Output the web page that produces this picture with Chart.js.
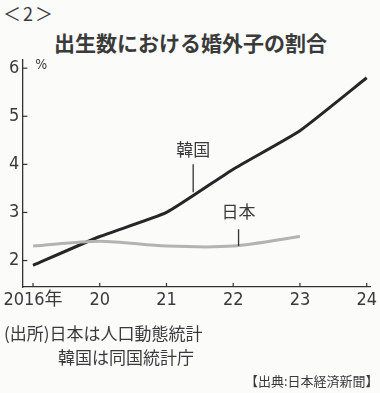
<!DOCTYPE html>
<html>
<head>
<meta charset="utf-8">
<script src="https://cdn.jsdelivr.net/npm/chart.js@4"></script>
<style>
    body { margin: 0; background: #fbfbfa; width: 380px; height: 393px; overflow: hidden; position: relative; font-family: 'Noto Sans CJK JP', sans-serif; color: #3a3a3a; }
    #chart { position: absolute; left: 0; top: 0; }
    .txt { position: absolute; white-space: nowrap; line-height: 1; }
</style>
</head>
<body>
<div class="txt" style="left:3px; top:4px; font-size:18px; letter-spacing:-1px;">＜ 2 ＞</div>
<div class="txt" style="left:54px; top:32px; font-size:21px; font-weight:bold;">出生数における婚外子の割合</div>
<canvas id="chart" width="380" height="393"></canvas>
<div class="txt" style="left:4px; top:324px; font-size:17px;">(出所)日本は人口動態統計</div>
<div class="txt" style="left:58px; top:348px; font-size:17px;">韓国は同国統計庁</div>
<div class="txt" style="left:245px; top:374px; font-size:13px;">【出典:日本経済新聞】</div>

<script>
const years = ['2016年', '20', '21', '22', '23', '24'];
const korea = [1.9, 2.5, 3.0, 3.9, 4.7, 5.8];
const japan = [2.3, 2.4, 2.3, 2.3, 2.5];
const yTicks = [2, 3, 4, 5, 6];

const numFont = "'Liberation Sans Narrow', 'DejaVu Sans Condensed', 'Noto Sans CJK JP', sans-serif";

// inward tick marks and the labels with leader lines
const decorPlugin = {
    id: 'decor',
    afterDraw(chart) {
        const ctx = chart.ctx;
        const x = chart.scales.x;
        const y = chart.scales.y;
        ctx.save();
        ctx.strokeStyle = '#333';
        ctx.lineWidth = 1.2;
        yTicks.forEach(v => {
            const py = y.getPixelForValue(v);
            ctx.beginPath();
            ctx.moveTo(x.left, py);
            ctx.lineTo(x.left + 5, py);
            ctx.stroke();
        });
        years.forEach((_, i) => {
            const px = x.getPixelForValue(i);
            ctx.beginPath();
            ctx.moveTo(px, y.bottom);
            ctx.lineTo(px, y.bottom - 4);
            ctx.stroke();
        });

        ctx.fillStyle = '#3a3a3a';
        ctx.font = "14px " + numFont;
        ctx.textAlign = 'left';
        ctx.textBaseline = 'middle';
        ctx.fillText('%', x.left + 13, y.getPixelForValue(6.05));

        ctx.font = "17px 'Noto Sans CJK JP', sans-serif";
        ctx.textAlign = 'center';
        ctx.fillText('韓国', x.getPixelForValue(2.4), y.getPixelForValue(4.3));
        ctx.fillText('日本', x.getPixelForValue(3.08), y.getPixelForValue(3.02));

        ctx.lineWidth = 1.3;
        ctx.beginPath();
        ctx.moveTo(x.getPixelForValue(2.4), y.getPixelForValue(4.0));
        ctx.lineTo(x.getPixelForValue(2.4), y.getPixelForValue(3.42));
        ctx.moveTo(x.getPixelForValue(3.08), y.getPixelForValue(2.65));
        ctx.lineTo(x.getPixelForValue(3.08), y.getPixelForValue(2.3));
        ctx.stroke();
        ctx.restore();
    }
};

const ctx = document.getElementById('chart').getContext('2d');
new Chart(ctx, {
    type: 'line',
    data: {
        datasets: [{
            label: '日本',
            data: japan.map((v, i) => ({ x: i, y: v })),
            borderColor: '#b3b3b1',
            borderWidth: 3,
            pointRadius: 0,
            tension: 0.3
        }, {
            label: '韓国',
            data: korea.map((v, i) => ({ x: i, y: v })),
            borderColor: '#262626',
            borderWidth: 3,
            pointRadius: 0,
            tension: 0.15
        }]
    },
    options: {
        responsive: false,
        devicePixelRatio: 1,
        animation: false,
        layout: { padding: { top: 60, right: 8, bottom: 76, left: 0 } },
        plugins: {
            legend: { display: false },
            tooltip: { enabled: false }
        },
        scales: {
            x: {
                type: 'linear',
                min: -0.16,
                max: 5.06,
                afterBuildTicks: scale => { scale.ticks = years.map((_, i) => ({ value: i })); },
                afterFit: scale => { scale.height = 30; },
                grid: { display: false, drawTicks: false },
                border: { display: true, color: '#333', width: 1.3 },
                ticks: {
                    callback: v => years[v],
                    color: '#3a3a3a',
                    padding: 3,
                    maxRotation: 0,
                    autoSkip: false,
                    font: { family: numFont, size: 18 }
                }
            },
            y: {
                min: 1.45,
                max: 6.17,
                afterBuildTicks: scale => { scale.ticks = yTicks.map(v => ({ value: v })); },
                afterFit: scale => { scale.width = 15; },
                grid: { display: false, drawTicks: false },
                border: { display: true, color: '#333', width: 1.3 },
                ticks: {
                    color: '#3a3a3a',
                    padding: 3,
                    font: { family: numFont, size: 18 }
                }
            }
        }
    },
    plugins: [decorPlugin]
});
</script>
</body>
</html>
